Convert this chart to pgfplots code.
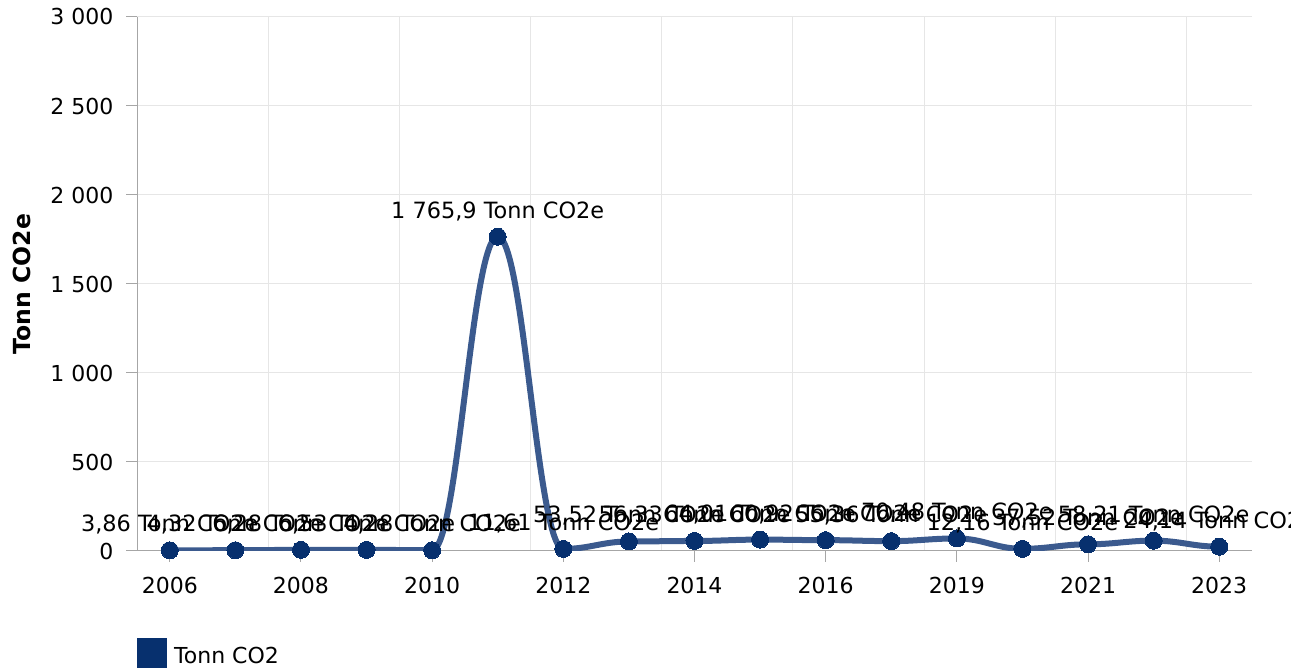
\documentclass[border=0pt]{standalone}
\usepackage{fontspec}
\setmainfont{DejaVu Sans}
\usepackage{pgfplots}
\usepackage{pgfplotstable}
\pgfplotsset{compat=1.18}

\definecolor{linecol}{HTML}{3B5A8E}
\definecolor{markcol}{HTML}{07306E}
\definecolor{gridcol}{HTML}{E6E6E6}
\definecolor{axiscol}{HTML}{A6A6A6}

% plot handler: cubic segments with flat tangents at each point (spline look without overshoot)
\makeatletter
\def\pgfplothandlerhcurve{%
  \def\pgf@plotstreamstart{%
    \global\let\pgf@plotstreampoint=\hc@first
    \global\let\pgf@plotstreamspecial=\pgfutil@gobble
    \global\let\pgf@plotstreamend=\relax
  }%
}
\def\hc@first#1{%
  \pgf@plot@first@action{#1}%
  \pgf@process{#1}%
  \xdef\hc@lastx{\the\pgf@x}\xdef\hc@lasty{\the\pgf@y}%
  \global\let\pgf@plotstreampoint=\hc@next
}
\def\hc@next#1{%
  \pgf@process{#1}%
  \edef\hc@curx{\the\pgf@x}\edef\hc@cury{\the\pgf@y}%
  \pgf@xc=\hc@curx\relax \advance\pgf@xc by -\hc@lastx\relax
  \pgf@xc=0.4\pgf@xc
  \pgf@xb=\hc@lastx\relax \advance\pgf@xb by \pgf@xc \edef\hc@ca{\the\pgf@xb}%
  \pgf@xb=\hc@curx\relax \advance\pgf@xb by -\pgf@xc \edef\hc@cb{\the\pgf@xb}%
  \pgfpathcurveto{\pgfqpoint{\hc@ca}{\hc@lasty}}{\pgfqpoint{\hc@cb}{\hc@cury}}{\pgfqpoint{\hc@curx}{\hc@cury}}%
  \xdef\hc@lastx{\hc@curx}\xdef\hc@lasty{\hc@cury}%
}
\tikzset{hcurve/.code={\let\tikz@plot@handler=\pgfplothandlerhcurve}}
\makeatother

% x = category index (2006 ... 2023, no 2018)
\pgfplotstableread[col sep=semicolon]{
x;y;label
0;3.86;3,86 Tonn CO2e
1;4.32;4,32 Tonn CO2e
2;6.28;6,28 Tonn CO2e
3;6.53;6,53 Tonn CO2e
4;4.28;4,28 Tonn CO2e
5;1765.9;1 765,9 Tonn CO2e
6;11.61;11,61 Tonn CO2e
7;53.52;53,52 Tonn CO2e
8;56.33;56,33 Tonn CO2e
9;64.01;64,01 Tonn CO2e
10;60.92;60,92 Tonn CO2e
11;55.36;55,36 Tonn CO2e
12;70.48;70,48 Tonn CO2e
13;12.16;12,16 Tonn CO2e
14;37.52;37,52 Tonn CO2e
15;58.21;58,21 Tonn CO2e
16;24.14;24,14 Tonn CO2e
}\datatable

\begin{document}
\begin{tikzpicture}[font=\fontsize{22}{26}\selectfont]
\useasboundingbox (0,0) rectangle (1308pt,668pt);
\clip (0,0) rectangle (1290pt,700pt);
\begin{axis}[
    at={(137pt,117pt)}, anchor=south west,
    scale only axis,
    width=1115pt, height=534pt,
    xmin=-0.5, xmax=16.5,
    ymin=0, ymax=3000,
    clip mode=individual,
    axis x line*=bottom,
    axis y line*=left,
    axis line style={axiscol, line width=1pt, -},
    xtick={0,2,...,16},
    xticklabels={2006,2008,2010,2012,2014,2016,2019,2021,2023},
    minor xtick={1.5,3.5,...,15.5},
    ytick={0,500,...,3000},
    xminorgrids, ymajorgrids,
    grid style={gridcol, line width=1pt},
    minor grid style={gridcol, line width=1pt},
    tick align=outside,
    major tick length=11pt,
    minor tick length=0pt,
    tick style={axiscol, line width=1pt},
    /pgf/number format/.cd, 1000 sep={\ }, assume math mode=true,
    /pgfplots/.cd,
    xticklabel style={yshift=-12pt},
    yticklabel style={xshift=-9pt},
    every axis y label/.style={at={(axis description cs:0,0.5)}, xshift=-115pt, rotate=90, anchor=center},
    ylabel={\fontsize{23.5}{27}\selectfont\bfseries Tonn CO2e},
    legend style={at={(axis description cs:0,0)}, anchor=north west, yshift=-87pt,
        draw=none, fill=none, inner sep=0pt, column sep=5pt, font=\fontsize{22}{26}\selectfont,
        legend cell align=left},
    legend image code/.code={\fill[markcol] (0pt,-15pt) rectangle (24pt,15pt);},
    nodes near coords,
    point meta=explicit symbolic,
    every node near coord/.append style={anchor=south, inner sep=0pt, yshift=16pt, black, font=\fontsize{22.4}{26}\selectfont},
]
\addplot[linecol, line width=6pt, hcurve,
    mark=*, mark size=8.5pt,
    mark options={draw=markcol, fill=markcol, line width=0pt}]
    table[x=x, y=y, meta=label] {\datatable};
\addlegendentry{Tonn CO2}
\end{axis}
\end{tikzpicture}
\end{document}
